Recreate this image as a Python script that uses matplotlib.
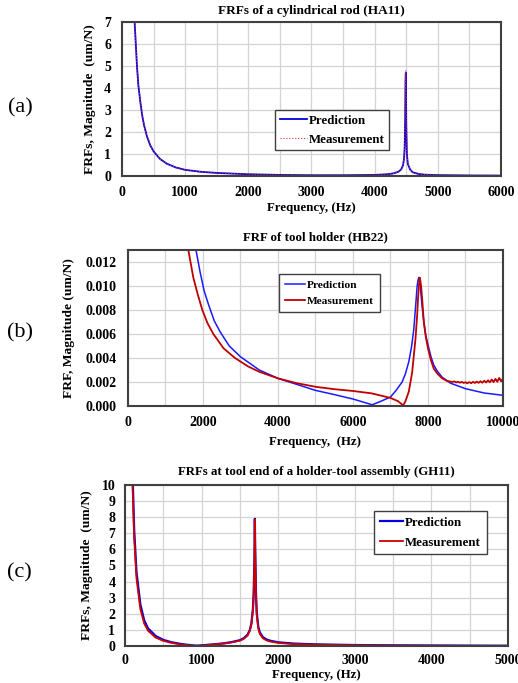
import matplotlib.pyplot as plt

plt.rcParams['font.family'] = 'Liberation Serif'
plt.rcParams['font.weight'] = 'bold'

# (a) cylindrical rod HA11
freq_a = [150, 184, 200, 237, 260, 289, 320, 350, 395, 450, 500, 600, 710, 850, 1000, 1250, 1500,
          2000, 2500, 3000, 3500, 4000, 4200, 4300, 4380, 4420, 4450, 4465, 4475, 4483, 4488,
          4493, 4500, 4510, 4525, 4560, 4600, 4700, 4800, 5000, 5500, 6000]
pred_a = [12.4, 8.3, 7.0, 5.0, 4.1, 3.4, 2.75, 2.3, 1.8, 1.38, 1.12, 0.78, 0.56, 0.39, 0.28, 0.19, 0.14,
          0.08, 0.05, 0.035, 0.035, 0.05, 0.08, 0.12, 0.2, 0.3, 0.5, 0.8, 1.3, 2.6, 4.3,
          4.7, 2.4, 1.0, 0.55, 0.3, 0.17, 0.09, 0.06, 0.04, 0.025, 0.02]
meas_a = [12.4, 8.3, 7.0, 5.0, 4.1, 3.4, 2.75, 2.3, 1.8, 1.38, 1.12, 0.78, 0.56, 0.39, 0.28, 0.19, 0.14,
          0.08, 0.05, 0.035, 0.035, 0.05, 0.08, 0.12, 0.2, 0.3, 0.5, 0.8, 1.3, 2.7, 4.4,
          4.8, 2.5, 1.0, 0.55, 0.3, 0.17, 0.09, 0.06, 0.04, 0.025, 0.02]

# (b) tool holder HB22
freq_b_pred = [1760, 1813, 1920, 2030, 2142, 2300, 2453, 2700, 3000, 3500, 4000, 4500, 5000, 5500,
               6000, 6300, 6511, 6750, 7000, 7150, 7311, 7400, 7489, 7560, 7622, 7670, 7711, 7735,
               7756, 7780, 7800, 7840, 7889, 7940, 8000, 8080, 8156, 8250, 8378, 8600, 9000, 9500,
               10000]
pred_b = [0.0142, 0.0130, 0.0112, 0.0096, 0.0085, 0.0071, 0.0062, 0.0050, 0.0041, 0.0030, 0.0023,
          0.0018, 0.0013, 0.00095, 0.00058, 0.0003, 0.0001, 0.0004, 0.00075, 0.0013, 0.002, 0.0027,
          0.0037, 0.0049, 0.0064, 0.0083, 0.0100, 0.0105, 0.0107, 0.0104, 0.0098, 0.0084, 0.0070,
          0.0059, 0.0051, 0.0041, 0.0034, 0.0029, 0.0024, 0.0019, 0.00144, 0.00108, 0.00089]
freq_b_meas = [1560, 1609, 1742, 1860, 1982, 2120, 2276, 2550, 2853, 3200, 3500, 4000, 4500, 5000,
               5500, 6000, 6500, 7000, 7200, 7300, 7338, 7400, 7489, 7578, 7667, 7710, 7733, 7760,
               7778, 7800, 7822, 7850, 7889, 7940, 8000, 8080, 8156, 8250, 8378, 8500, 8644, 8700,
               8750, 8800, 8850, 8900, 8950, 9000, 9050, 9100, 9150, 9200, 9250, 9300, 9350, 9400,
               9450, 9500, 9550, 9600, 9650, 9700, 9750, 9800, 9850, 9900, 9950, 10000]
meas_b = [0.0140, 0.0130, 0.0107, 0.0093, 0.0080, 0.0069, 0.0060, 0.0048, 0.0040, 0.0033, 0.00285,
          0.0023, 0.0019, 0.0016, 0.0014, 0.00125, 0.00105, 0.00067, 0.0004, 0.00015, 0.00005,
          0.0004, 0.0012, 0.0028, 0.0056, 0.0075, 0.0089, 0.0101, 0.0107, 0.0104, 0.0098, 0.0087,
          0.0070, 0.0058, 0.0048, 0.0038, 0.0031, 0.0027, 0.0023, 0.0021, 0.0020, 0.00205, 0.00196,
          0.00202, 0.00194, 0.00201, 0.00192, 0.00198, 0.00189, 0.00199, 0.0019, 0.00201, 0.00192,
          0.00203, 0.00193, 0.00206, 0.00194, 0.0021, 0.00196, 0.00214, 0.00197, 0.0022, 0.00199,
          0.00226, 0.00202, 0.00234, 0.00206, 0.0023]

# (c) holder-tool assembly GH11
freq_c = [80, 100, 120, 150, 200, 250, 300, 400, 500, 600, 700, 800, 900, 950, 1000, 1100, 1200,
          1300, 1400, 1500, 1550, 1600, 1630, 1650, 1670, 1680, 1690, 1695, 1700, 1710, 1720,
          1740, 1760, 1800, 1850, 1900, 2000, 2200, 2500, 3000, 3500, 4000, 4500, 5000]
pred_c = [16.0, 10.5, 7.2, 4.6, 2.6, 1.6, 1.1, 0.62, 0.38, 0.24, 0.15, 0.08, 0.03, 0.02, 0.04,
          0.08, 0.12, 0.17, 0.25, 0.36, 0.48, 0.7, 1.0, 1.4, 2.3, 3.3, 5.5, 7.9, 6.0, 3.3, 2.1,
          1.2, 0.85, 0.55, 0.4, 0.32, 0.23, 0.15, 0.1, 0.06, 0.04, 0.03, 0.02, 0.015]
meas_c = [15.0, 9.8, 6.7, 4.2, 2.3, 1.4, 0.95, 0.52, 0.32, 0.2, 0.12, 0.06, 0.02, 0.01, 0.03,
          0.07, 0.11, 0.16, 0.23, 0.33, 0.44, 0.65, 0.95, 1.35, 2.2, 3.2, 5.4, 7.85, 5.8, 3.1, 1.9,
          1.1, 0.75, 0.48, 0.34, 0.27, 0.19, 0.12, 0.08, 0.05, 0.03, 0.02, 0.015, 0.01]

fig = plt.figure(figsize=(5.18, 6.83), dpi=100)
spine_col = '#404040'
grid_col = '#d4d4d4'


def style_axes(ax, xmax, xstep, xgrid, ymax, ystep, ygrid, yfmt, xpad, ypad):
    ax.set_xlim(0, xmax)
    ax.set_ylim(0, ymax)
    ax.set_xticks(range(0, xmax + 1, xstep))
    ax.set_xticks(range(0, xmax + 1, xgrid), minor=True)
    yt = [i * ystep for i in range(int(round(ymax / ystep)) + 1) if i * ystep <= ymax + 1e-12]
    ax.set_yticks(yt)
    ax.set_yticklabels([yfmt.format(v) for v in yt])
    ax.set_yticks([i * ygrid for i in range(int(ymax / ygrid) + 1)], minor=True)
    ax.grid(True, which='both', color=grid_col, linewidth=0.9)
    ax.set_axisbelow(True)
    ax.tick_params(which='both', length=0, labelsize=10)
    ax.tick_params(axis='x', pad=xpad)
    ax.tick_params(axis='y', pad=ypad)
    for s in ax.spines.values():
        s.set_color(spine_col)
        s.set_linewidth(1.5)


leg_kw = dict(loc='upper left', frameon=True, fancybox=False, edgecolor=spine_col,
              framealpha=1, borderaxespad=0, handletextpad=0.15)

# (a)
ax1 = fig.add_axes([0.2355, 0.7423, 0.7317, 0.2255])
ax1.plot(freq_a, pred_a, color='#0000e0', linewidth=1.3, label='Prediction')
ax1.plot(freq_a, meas_a, color='#e03030', linewidth=0.8, linestyle=':', label='Measurement')
style_axes(ax1, 6000, 1000, 500, 7, 1, 1, '{:.0f}', 7, 8)
ax1.set_title('FRFs of a cylindrical rod (HA11)', fontsize=9.5, fontweight='bold', pad=6)
ax1.set_xlabel('Frequency, (Hz)', fontsize=9.3, fontweight='bold', labelpad=2)
ax1.set_ylabel('FRFs, Magnitude  (um/N)', fontsize=9.7, fontweight='bold', labelpad=6)
ax1.legend(bbox_to_anchor=(0.404, 0.4286), fontsize=9.3, handlelength=2.1,
           borderpad=0.35, labelspacing=0.55, **leg_kw)
fig.text(0.039, 0.842, '(a)', fontsize=16, fontweight='normal', ha='center', va='center')

# (b)
ax2 = fig.add_axes([0.2471, 0.4056, 0.7239, 0.2284])
ax2.plot(freq_b_pred, pred_b, color='#1a1aff', linewidth=1.1, label='Prediction')
ax2.plot(freq_b_meas, meas_b, color='#c00000', linewidth=1.3, label='Measurement')
style_axes(ax2, 10000, 2000, 1000, 0.013, 0.002, 0.002, '{:.3f}', 7, 8)
ax2.set_title('FRF of tool holder (HB22)', fontsize=9.3, fontweight='bold', pad=7)
ax2.set_xlabel('Frequency,  (Hz)', fontsize=9.3, fontweight='bold', labelpad=5)
ax2.set_ylabel('FRF, Magnitude (um/N)', fontsize=9.7, fontweight='bold', labelpad=8)
ax2.legend(bbox_to_anchor=(0.4027, 0.846), fontsize=8.2, handlelength=1.8,
           borderpad=0.5, labelspacing=0.55, **leg_kw)
fig.text(0.039, 0.5125, '(b)', fontsize=16, fontweight='normal', ha='center', va='center')

# (c)
ax3 = fig.add_axes([0.2413, 0.0542, 0.7394, 0.2357])
ax3.plot(freq_c, pred_c, color='#0000e0', linewidth=1.6, label='Prediction')
ax3.plot(freq_c, meas_c, color='#d00000', linewidth=1.3, label='Measurement')
style_axes(ax3, 5000, 1000, 500, 10, 1, 1, '{:.0f}', 6, 7)
ax3.set_title('FRFs at tool end of a holder-tool assembly (GH11)', fontsize=9.3,
              fontweight='bold', pad=7)
ax3.set_xlabel('Frequency, (Hz)', fontsize=9.3, fontweight='bold', labelpad=1.5)
ax3.set_ylabel('FRFs, Magnitude  (um/N)', fontsize=9.7, fontweight='bold', labelpad=6)
ax3.legend(bbox_to_anchor=(0.65, 0.8385), fontsize=9.3, handlelength=1.8,
           borderpad=0.45, labelspacing=0.6, **leg_kw)
fig.text(0.037, 0.161, '(c)', fontsize=16, fontweight='normal', ha='center', va='center')

fig.savefig('out.png', dpi=100)
